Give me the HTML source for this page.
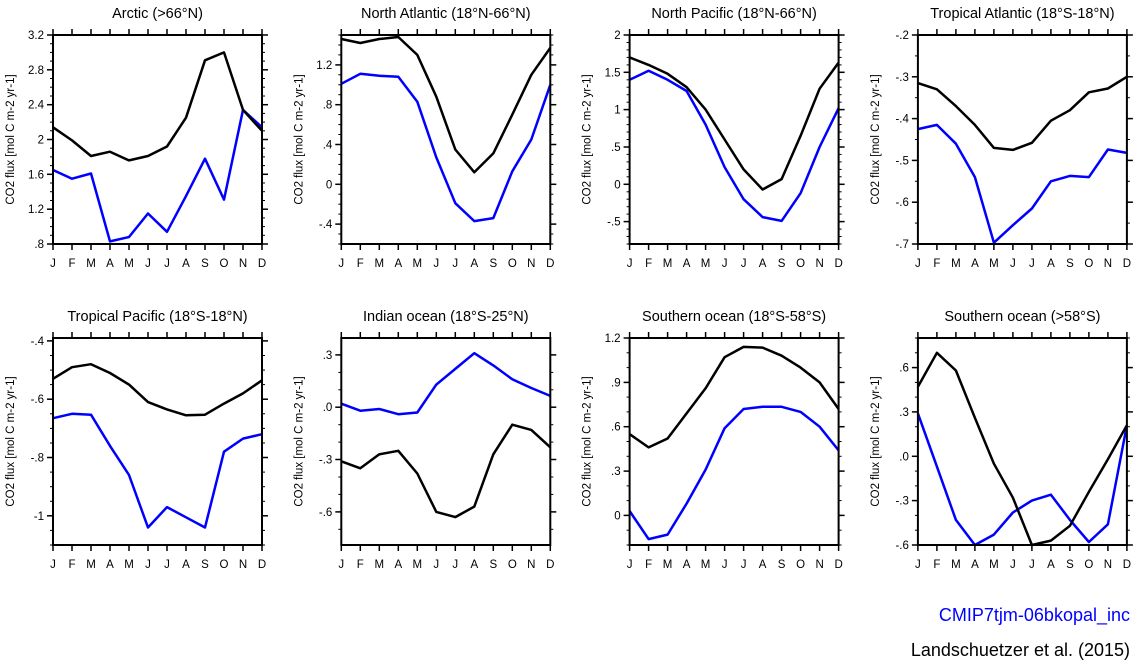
<!DOCTYPE html>
<html><head><meta charset="utf-8"><style>
html,body{margin:0;padding:0;background:#fff;}
svg{display:block;font-family:"Liberation Sans",Arial,sans-serif;}
</style></head><body>
<svg id="s" width="1138" height="666" xmlns="http://www.w3.org/2000/svg">
<text x="1130" y="621" font-size="18" fill="#0000ff" text-anchor="end">CMIP7tjm-06bkopal_inc</text>
<text x="1130" y="656" font-size="18" fill="#000" text-anchor="end">Landschuetzer et al. (2015)</text>
</svg>
<script>
const P=[
{t:"Arctic (>66°N)",r:0,c:0,lo:0.8,hi:3.2,maj:[[0.8,".8"],[1.2,"1.2"],[1.6,"1.6"],[2,"2"],[2.4,"2.4"],[2.8,"2.8"],[3.2,"3.2"]],mn:0.1,
 k:[2.14,1.99,1.81,1.86,1.76,1.81,1.92,2.25,2.91,3.0,2.34,2.1],b:[1.65,1.55,1.61,0.83,0.88,1.15,0.94,1.35,1.78,1.31,2.34,2.14]},
{t:"North Atlantic (18°N-66°N)",r:0,c:1,lo:-0.6,hi:1.5,maj:[[-0.4,"-.4"],[0,"0"],[0.4,".4"],[0.8,".8"],[1.2,"1.2"]],mn:0.1,
 k:[1.46,1.42,1.46,1.48,1.3,0.88,0.35,0.12,0.31,0.7,1.1,1.37],b:[1.01,1.11,1.09,1.08,0.83,0.27,-0.19,-0.37,-0.34,0.13,0.45,1.0]},
{t:"North Pacific (18°N-66°N)",r:0,c:2,lo:-0.8,hi:2,maj:[[-0.5,"-.5"],[0,"0"],[0.5,".5"],[1,"1"],[1.5,"1.5"],[2,"2"]],mn:0.1,
 k:[1.7,1.6,1.48,1.3,1.0,0.6,0.2,-0.07,0.07,0.65,1.28,1.63],b:[1.4,1.52,1.4,1.25,0.8,0.23,-0.2,-0.44,-0.49,-0.12,0.5,1.02]},
{t:"Tropical Atlantic (18°S-18°N)",r:0,c:3,lo:-0.7,hi:-0.2,maj:[[-0.7,"-.7"],[-0.6,"-.6"],[-0.5,"-.5"],[-0.4,"-.4"],[-0.3,"-.3"],[-0.2,"-.2"]],mn:0.05,
 k:[-0.315,-0.33,-0.37,-0.415,-0.47,-0.475,-0.458,-0.405,-0.38,-0.337,-0.328,-0.3],b:[-0.425,-0.415,-0.46,-0.54,-0.697,-0.655,-0.615,-0.55,-0.537,-0.54,-0.474,-0.482]},
{t:"Tropical Pacific (18°S-18°N)",r:1,c:0,lo:-1.1,hi:-0.39,maj:[[-1,"-1"],[-0.8,"-.8"],[-0.6,"-.6"],[-0.4,"-.4"]],mn:0.05,
 k:[-0.53,-0.49,-0.48,-0.51,-0.55,-0.61,-0.635,-0.655,-0.653,-0.615,-0.58,-0.535],b:[-0.665,-0.65,-0.653,-0.76,-0.86,-1.04,-0.97,-1.005,-1.04,-0.78,-0.735,-0.72]},
{t:"Indian ocean (18°S-25°N)",r:1,c:1,lo:-0.79,hi:0.397,maj:[[-0.6,"-.6"],[-0.3,"-.3"],[0,".0"],[0.3,".3"]],mn:0.1,
 k:[-0.31,-0.35,-0.27,-0.25,-0.38,-0.6,-0.63,-0.57,-0.27,-0.1,-0.13,-0.23],b:[0.02,-0.02,-0.01,-0.04,-0.03,0.13,0.22,0.31,0.24,0.16,0.11,0.065]},
{t:"Southern ocean (18°S-58°S)",r:1,c:2,lo:-0.2,hi:1.2,maj:[[0,"0"],[0.3,".3"],[0.6,".6"],[0.9,".9"],[1.2,"1.2"]],mn:0.1,
 k:[0.55,0.46,0.52,0.69,0.86,1.07,1.14,1.135,1.08,1.0,0.9,0.72],b:[0.03,-0.16,-0.13,0.08,0.31,0.59,0.72,0.735,0.735,0.7,0.6,0.44]},
{t:"Southern ocean (>58°S)",r:1,c:3,lo:-0.6,hi:0.8,maj:[[-0.6,"-.6"],[-0.3,"-.3"],[0,".0"],[0.3,".3"],[0.6,".6"]],mn:0.1,
 k:[0.47,0.70,0.58,0.26,-0.05,-0.28,-0.6,-0.57,-0.47,-0.24,-0.02,0.21],b:[0.29,-0.07,-0.43,-0.6,-0.53,-0.38,-0.3,-0.26,-0.43,-0.58,-0.46,0.21]}
];
const M="JFMAMJJASOND";
let h="";
for(const p of P){
 const L=53+288.3*p.c, R=L+209, T=p.r?338:35, B=p.r?545:244;
 const Y=v=>B-(v-p.lo)/(p.hi-p.lo)*(B-T);
 const X=i=>L+i*(R-L)/11;
 h+=`<text x="${(L+R)/2}" y="${T-17}" font-size="14.5" text-anchor="middle">${p.t}</text>`;
 h+=`<text transform="translate(${L-39},${(T+B)/2}) rotate(-90)" font-size="11.5" text-anchor="middle">CO2 flux [mol C m-2 yr-1]</text>`;
 let s=Math.ceil(p.lo/p.mn-1e-6);
 for(let v=s*p.mn;v<=p.hi+1e-9;v+=p.mn){const y=Y(v).toFixed(1);h+=`<line x1="${L-3}" x2="${L}" y1="${y}" y2="${y}" stroke="#000" stroke-width="1"/><line x1="${R}" x2="${R+3}" y1="${y}" y2="${y}" stroke="#000" stroke-width="1"/>`;}
 for(const [v,l] of p.maj){const y=Y(v).toFixed(1);h+=`<line x1="${L-6}" x2="${L}" y1="${y}" y2="${y}" stroke="#000" stroke-width="1.5"/><line x1="${R}" x2="${R+6}" y1="${y}" y2="${y}" stroke="#000" stroke-width="1.5"/><text x="${L-9}" y="${+y+4}" font-size="11.5" text-anchor="end">${l}</text>`;}
 for(let i=0;i<12;i++){const x=X(i).toFixed(1);h+=`<line x1="${x}" x2="${x}" y1="${B}" y2="${B+6}" stroke="#000" stroke-width="1.5"/><line x1="${x}" x2="${x}" y1="${T-6}" y2="${T}" stroke="#000" stroke-width="1.5"/><text x="${x}" y="${B+23}" font-size="11.5" text-anchor="middle">${M[i]}</text>`;}
 const pl=a=>a.map((v,i)=>X(i).toFixed(1)+","+Y(v).toFixed(1)).join(" ");
 h+=`<polyline points="${pl(p.b)}" fill="none" stroke="#0000ff" stroke-width="2.5" stroke-linejoin="round"/>`;
 h+=`<polyline points="${pl(p.k)}" fill="none" stroke="#000" stroke-width="2.5" stroke-linejoin="round"/>`;
 h+=`<rect x="${L}" y="${T}" width="${R-L}" height="${B-T}" fill="none" stroke="#000" stroke-width="2"/>`;
}
document.getElementById("s").insertAdjacentHTML("beforeend",h);
</script>
</body></html>
